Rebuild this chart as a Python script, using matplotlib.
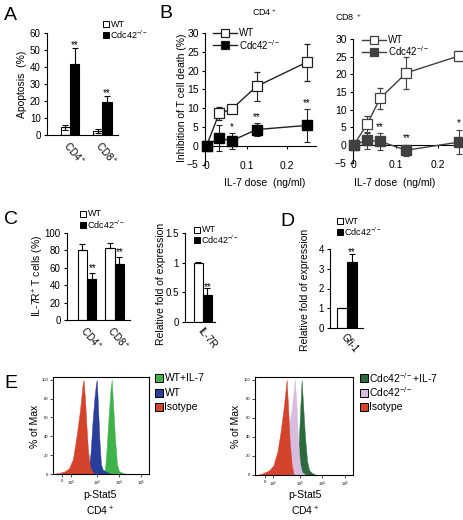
import matplotlib
matplotlib.use('Agg')
import matplotlib.pyplot as plt
from matplotlib.patches import Rectangle
from matplotlib.lines import Line2D
import numpy as np

W, H = 464, 520
plt.rcParams['font.family'] = ['Liberation Sans', 'DejaVu Sans']
plt.rcParams['font.size'] = 7
plt.rcParams['axes.linewidth'] = 0.8
plt.rcParams['xtick.major.width'] = 0.8
plt.rcParams['ytick.major.width'] = 0.8
plt.rcParams['xtick.major.size'] = 2.5
plt.rcParams['ytick.major.size'] = 2.5
plt.rcParams['xtick.major.pad'] = 2
plt.rcParams['ytick.major.pad'] = 2
plt.rcParams['mathtext.default'] = 'regular'

# ---- data ----
# A: apoptosis (%)
apop_groups = ['CD4$^+$', 'CD8$^+$']
apop_wt = [4.5, 2.5]
apop_wt_err = [1.3, 1.2]
apop_ko = [42.0, 19.5]
apop_ko_err = [9.0, 3.3]

# B: inhibition of T cell death (%)
il7_dose = [0, 0.03125, 0.0625, 0.125, 0.25]
cd4_wt = [0, 8.6, 9.7, 15.8, 22.2]
cd4_wt_err = [0, 1.8, 1.1, 3.9, 5.0]
cd4_ko = [0, 2.0, 1.3, 4.3, 5.4]
cd4_ko_err = [0, 3.5, 2.2, 1.8, 4.5]
cd4_sig = ['', '*', '*', '**', '**']
cd8_wt = [0, 5.8, 13.2, 20.4, 25.2]
cd8_wt_err = [0, 2.5, 3.0, 4.6, 1.3]
cd8_ko = [0, 1.3, 1.0, -1.5, 0.8]
cd8_ko_err = [0, 2.5, 2.3, 1.5, 3.5]
cd8_sig = ['', '', '**', '**', '*']

# C: IL-7R+ T cells (%) and IL-7R expression
il7r_groups = ['CD4$^+$', 'CD8$^+$']
il7r_wt = [81, 83]
il7r_wt_err = [6, 5]
il7r_ko = [47, 64]
il7r_ko_err = [7, 8]
expr_c_label = ['IL-7R']
expr_c_wt = [1.0]
expr_c_wt_err = [0.015]
expr_c_ko = [0.46]
expr_c_ko_err = [0.11]

# D: Gfi-1 expression
expr_d_label = ['Gfi-1']
expr_d_wt = [1.0]
expr_d_wt_err = [0.02]
expr_d_ko = [3.35]
expr_d_ko_err = [0.4]

# E: p-Stat5 histograms (display channel, % of max)
e1_iso_x = [0, 6, 12, 16, 20, 23.5, 27, 29.5, 30.5, 32, 33.5, 35, 37, 39, 41]
e1_iso_y = [0, 1, 3, 6, 16, 40, 68, 94, 100, 80, 50, 25, 8, 3, 0]
e1_wt_x = [28, 33, 35.5, 37.5, 39.5, 41.5, 43, 43.8, 45, 46.5, 48, 50, 54, 58]
e1_wt_y = [0, 2, 4, 22, 55, 82, 96, 100, 72, 35, 10, 4, 2, 0]
e1_il7_x = [42, 48, 52, 53.5, 55.5, 57.5, 58.7, 60, 62, 64, 66, 70, 74]
e1_il7_y = [0, 2, 5, 25, 60, 90, 100, 75, 38, 10, 3, 1, 0]
e2_iso_x = [2, 8, 14, 18, 22, 25, 28, 30, 31, 32.5, 34, 36, 38]
e2_iso_y = [0, 2, 5, 10, 25, 45, 70, 90, 100, 70, 35, 10, 0]
e2_ko_x = [14, 22, 26, 30, 33, 36, 38, 39, 40.5, 42, 44, 46, 50]
e2_ko_y = [0, 3, 10, 30, 50, 70, 90, 100, 75, 40, 12, 3, 0]
e2_il7_x = [36, 40, 42, 43.5, 45, 45.7, 47, 49, 51, 53, 56, 60]
e2_il7_y = [0, 3, 15, 50, 85, 100, 75, 40, 15, 5, 2, 0]
flow_ticks = [9.5, 18, 44, 66, 88]
flow_ticklabels = ['0', '10$^2$', '10$^3$', '10$^4$', '10$^5$']

fig = plt.figure(figsize=(W / 100, H / 100), dpi=100)


def add_ax(l, t, r, b):
    return fig.add_axes([l / W, 1 - b / H, (r - l) / W, (b - t) / H])


def ftext(x, y, s, **kw):
    fig.text(x / W, 1 - y / H, s, **kw)


def box_legend(x, y, items, dy=9, sz=6, fs=6.5):
    for i, (fc, lab) in enumerate(items):
        yy = y + i * dy
        fig.add_artist(Rectangle((x / W, 1 - (yy + sz / 2) / H), sz / W, sz / H,
                                 transform=fig.transFigure, fc=fc, ec='black', lw=0.7))
        ftext(x + sz + 1.5, yy, lab, fontsize=fs, va='center', ha='left')


def line_legend(x, y, items, dy=11, ln=24):
    for i, (fc, ec, lab) in enumerate(items):
        yy = 1 - (y + i * dy) / H
        fig.add_artist(Line2D([x / W, (x + ln) / W], [yy, yy], transform=fig.transFigure,
                              color=ec, lw=1.0))
        fig.add_artist(Line2D([(x + ln / 2) / W], [yy], transform=fig.transFigure,
                              marker='s', ms=6, mfc=fc, mec=ec, mew=0.9, lw=0))
        ftext(x + ln + 2, y + i * dy, lab, fontsize=7, va='center', ha='left')


def bar_panel(ax, labels, wt, wt_err, ko, ko_err, width, both_wt=False):
    x = np.arange(len(labels))
    lo = wt_err if both_wt else [0] * len(wt)
    ax.bar(x - width / 2, wt, width, color='white', edgecolor='black', lw=0.8,
           yerr=[lo, wt_err], capsize=2.2, error_kw=dict(elinewidth=0.8, capthick=0.8), zorder=2)
    ax.bar(x + width / 2, ko, width, color='black', edgecolor='black', lw=0.8,
           yerr=[[0] * len(ko), ko_err], capsize=2.2, error_kw=dict(elinewidth=0.8, capthick=0.8), zorder=2)
    ax.set_xticks(x)
    ax.set_xticklabels(labels, rotation=-50, ha='left', va='top', rotation_mode='anchor', fontsize=7)
    ax.tick_params(axis='x', length=0, pad=3)
    ax.tick_params(axis='y', labelsize=7)
    for s in ['top', 'right']:
        ax.spines[s].set_visible(False)
    return x


def stars(ax, xs, vals, errs, marks, off):
    for xi, v, e, m in zip(xs, vals, errs, marks):
        if m:
            ax.text(xi, v + e + off, m, ha='center', va='bottom', fontsize=7, linespacing=0.8)


# ---- A ----
axA = add_ax(47, 33, 118, 135)
xa = bar_panel(axA, apop_groups, apop_wt, apop_wt_err, apop_ko, apop_ko_err, 0.29, both_wt=True)
axA.set_xlim(-0.71, 1.48)
axA.set_ylim(0, 60)
axA.set_yticks(range(0, 61, 10))
stars(axA, xa + 0.145, apop_ko, apop_ko_err, ['**', '**'], -1)
ftext(22, 84, 'Apoptosis  (%)', rotation=90, ha='center', va='center', fontsize=7.5)
box_legend(103, 24, [('white', 'WT'), ('black', 'Cdc42$^{-/-}$')], dy=10.5)
ftext(4, 16, 'A', fontsize=14, va='center')


# ---- B ----
def dose_panel(ax, wt, wt_err, ko, ko_err, sig, ko_col, line_col, top_off):
    ax.errorbar(il7_dose, wt, yerr=wt_err, color=line_col, marker='s', ms=6.5, mfc='white',
                mec=line_col, mew=0.9, lw=1.0, capsize=2.2, elinewidth=0.8, capthick=0.8,
                clip_on=False, zorder=3)
    ax.errorbar(il7_dose, ko, yerr=ko_err, color=line_col, marker='s', ms=6.5, mfc=ko_col,
                mec=ko_col, lw=1.0, capsize=2.2, elinewidth=0.8, capthick=0.8,
                clip_on=False, zorder=4)
    for xi, v, e, m in zip(il7_dose, ko, ko_err, sig):
        if m:
            ax.text(xi, v + e + top_off, m, ha='center', va='bottom', fontsize=7)
    ax.set_ylim(-5, 30)
    ax.set_yticks(range(-5, 31, 5))
    ax.set_xticks([0, 0.1, 0.2])
    ax.set_xticklabels(['0', '0.1', '0.2'])
    ax.spines['bottom'].set_position(('data', 0))
    for s in ['top', 'right']:
        ax.spines[s].set_visible(False)
    ax.tick_params(axis='x', length=2, pad=9, labelsize=7.5)
    ax.tick_params(axis='y', labelsize=7.5)


axB1 = add_ax(205, 33, 316, 164.5)
dose_panel(axB1, cd4_wt, cd4_wt_err, cd4_ko, cd4_ko_err, cd4_sig, 'black', '#202020', 0.2)
axB1.set_xlim(-0.004, 0.2735)
ftext(264, 12, 'CD4$^+$', ha='center', va='center', fontsize=6.5)
ftext(182, 98, 'Inhibition of T cell death (%)', rotation=90, ha='center', va='center', fontsize=7.5)
ftext(265, 183, 'IL-7 dose  (ng/ml)', ha='center', va='center', fontsize=7.5)
line_legend(213, 33, [('white', '#202020', 'WT'), ('black', '#202020', 'Cdc42$^{-/-}$')], dy=12)
ftext(159, 14, 'B', fontsize=14, va='center')

axB2 = add_ax(353, 39, 462, 162.6)
dose_panel(axB2, cd8_wt, cd8_wt_err, cd8_ko, cd8_ko_err, cd8_sig, '#404040', '#404040', 0.4)
axB2.set_xlim(-0.002, 0.2575)
ftext(349, 17, 'CD8 $^+$', ha='center', va='center', fontsize=6.5)
ftext(395, 183, 'IL-7 dose  (ng/ml)', ha='center', va='center', fontsize=7.5)
line_legend(362, 40, [('white', '#404040', 'WT'), ('#404040', '#404040', 'Cdc42$^{-/-}$')], dy=11.5)

# ---- C ----
axC1 = add_ax(67, 233, 130, 320)
xc = bar_panel(axC1, il7r_groups, il7r_wt, il7r_wt_err, il7r_ko, il7r_ko_err, 0.33)
axC1.set_xlim(-0.727, 1.56)
axC1.set_ylim(0, 100)
axC1.set_yticks(range(0, 101, 20))
stars(axC1, xc + 0.2, il7r_ko, il7r_ko_err, ['**', '**'], 0)
ftext(38, 276, 'IL-7R$^{+}$ T cells (%)', rotation=90, ha='center', va='center', fontsize=7.5)
box_legend(80, 214, [('white', 'WT'), ('black', 'Cdc42$^{-/-}$')], dy=10.5)
ftext(4, 220, 'C', fontsize=14, va='center')

axC2 = add_ax(185, 233, 215, 322)
xc2 = bar_panel(axC2, expr_c_label, expr_c_wt, expr_c_wt_err, expr_c_ko, expr_c_ko_err, 0.3)
axC2.set_xlim(-0.6, 0.4)
axC2.set_ylim(0, 1.5)
axC2.set_yticks([0, 0.5, 1, 1.5])
axC2.set_yticklabels(['0', '0.5', '1', '1.5'])
stars(axC2, xc2 + 0.15, expr_c_ko, expr_c_ko_err, ['**'], -0.06)
ftext(161, 284, 'Relative fold of expression', rotation=90, ha='center', va='center', fontsize=7.5)
box_legend(194, 230, [('white', 'WT'), ('black', 'Cdc42$^{-/-}$')], dy=10)

# ---- D ----
axD = add_ax(330, 249, 363, 328)
xd = bar_panel(axD, expr_d_label, expr_d_wt, expr_d_wt_err, expr_d_ko, expr_d_ko_err, 0.32)
axD.set_xlim(-0.567, 0.533)
axD.set_ylim(0, 4)
axD.set_yticks(range(0, 5))
stars(axD, xd + 0.16, expr_d_ko, expr_d_ko_err, ['**'], -0.15)
ftext(305, 290, 'Relative fold of expression', rotation=90, ha='center', va='center', fontsize=7.5)
box_legend(337, 221, [('white', 'WT'), ('black', 'Cdc42$^{-/-}$')], dy=10.5)
ftext(280, 222, 'D', fontsize=14, va='center')


# ---- E ----
def flow_panel(ax, series):
    for xs, ys, col in series:
        ax.fill_between(xs, ys, color=col, lw=0.3, edgecolor=col)
    ax.set_xlim(0, 96)
    ax.set_ylim(0, 103)
    ax.set_yticks(range(0, 101, 20))
    ax.set_xticks(flow_ticks)
    ax.set_xticklabels(flow_ticklabels)
    ax.tick_params(labelsize=3, length=2, width=0.5, pad=1.5)
    for s in ax.spines.values():
        s.set_linewidth(0.8)


axE1 = add_ax(53, 377, 149, 474)
flow_panel(axE1, [(e1_il7_x, e1_il7_y, '#3fb24a'), (e1_wt_x, e1_wt_y, '#2a3f9c'),
                  (e1_iso_x, e1_iso_y, '#d4432b')])
ftext(35, 426, '% of Max', rotation=90, ha='center', va='center', fontsize=7.5)
ftext(100, 495, 'p-Stat5', ha='center', va='center', fontsize=7.5)
ftext(100, 511, 'CD4$^+$', ha='center', va='center', fontsize=7.5)
box_legend(155, 378, [('#3fb24a', 'WT+IL-7'), ('#2a3f9c', 'WT'), ('#d4432b', 'Isotype')], dy=14.5, sz=8, fs=7.5)
ftext(4, 384, 'E', fontsize=14, va='center')

axE2 = add_ax(255, 377, 353, 475)
flow_panel(axE2, [(e2_il7_x, e2_il7_y, '#2a6a3c'), (e2_ko_x, e2_ko_y, '#d7bcdf'),
                  (e2_iso_x, e2_iso_y, '#d4432b')])
ftext(236, 426, '% of Max', rotation=90, ha='center', va='center', fontsize=7.5)
ftext(305, 495, 'p-Stat5', ha='center', va='center', fontsize=7.5)
ftext(305, 511, 'CD4$^+$', ha='center', va='center', fontsize=7.5)
box_legend(360, 378, [('#2a6a3c', 'Cdc42$^{-/-}$+IL-7'), ('#d7bcdf', 'Cdc42$^{-/-}$'),
                      ('#d4432b', 'Isotype')], dy=14.5, sz=8, fs=7.5)

fig.savefig('out.png', dpi=100)
